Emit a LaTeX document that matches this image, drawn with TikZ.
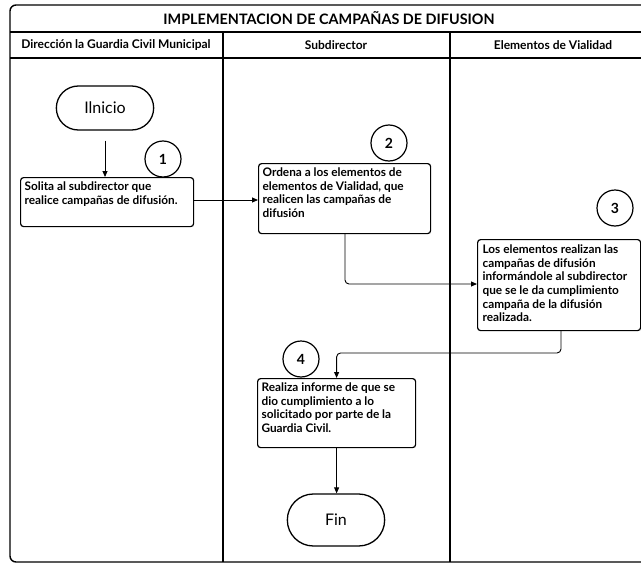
\documentclass[tikz,border=0pt]{standalone}
\usepackage{fontspec}
\setmainfont{Lato}
\usetikzlibrary{arrows.meta,shapes.misc}
\begin{document}
\begin{tikzpicture}[x=1pt,y=-1pt,
  frame/.style={line width=1.4pt},
  lane/.style={line width=1.2pt},
  box/.style={draw,line width=1.2pt,rounded corners=3pt,inner sep=4pt,anchor=north west,font=\bfseries\fontsize{11.8}{13.7}\selectfont},
  term/.style={draw,line width=1.3pt,rounded rectangle,minimum width=104pt,font=\fontsize{16}{18}\selectfont},
  num/.style={draw,circle,line width=1.2pt,minimum size=36pt,inner sep=0pt,font=\bfseries\fontsize{14}{16}\selectfont},
  hdr/.style={font=\bfseries\fontsize{12}{14}\selectfont},
  conn/.style={line width=0.9pt,-{Triangle[length=6pt,width=5pt]},rounded corners=4pt}]
\useasboundingbox (0,0) rectangle (641,565);
% frame
\draw[frame,rounded corners=6pt] (660,562) -- (10,562) -- (10,5) -- (660,5);
\draw[frame] (10,32) -- (660,32);
\draw[frame] (10,58) -- (660,58);
\draw[lane] (223,32) -- (223,562);
\draw[lane] (450,32) -- (450,562);
\node[font=\bfseries\fontsize{14.4}{16}\selectfont] (title) at (329,18.5) {IMPLEMENTACION DE CAMPAÑAS DE DIFUSION};
\node[hdr] (h1) at (116,45) {Dirección la Guardia Civil Municipal};
\node[hdr] (h2) at (336,45) {Subdirector};
\node[hdr] (h3) at (553,45) {Elementos de Vialidad};
% nodes
\node[term,minimum height=44pt] (ini) at (105,108) {Ilnicio};
\node[box] (b1) at (20,177) {\parbox[c][41pt][t]{165pt}{Solita al subdirector que\\realice campañas de difusión.}};
\node[box] (b2) at (258,163) {\parbox[c][62pt][t]{164pt}{Ordena a los elementos de\\elementos de Vialidad, que\\realicen las campañas de\\difusión}};
\node[box,inner sep=5pt] (b3) at (477,239) {\parbox[c][81pt][t]{153pt}{Los elementos realizan las\\campañas de difusión\\informándole al subdirector\\que se le da cumplimiento\\campaña de la difusión\\realizada.}};
\node[box] (b4) at (257,378) {\parbox[c][61pt][t]{150pt}{Realiza informe de que se\\dio cumplimiento a lo\\solicitado por parte de la\\Guardia Civil.}};
\node[term,minimum height=52pt] (fin) at (336,520) {Fin};
\node[num] (n1) at (163,159) {1};
\node[num] (n2) at (389,143) {2};
\node[num] (n3) at (615,208) {3};
\node[num] (n4) at (301,359) {4};
% connectors
\draw[conn,shorten <=10pt] (ini.south) -- (b1.north -| ini.south);
\draw[conn] (b1.east |- 0,200) -- (b2.west |- 0,200);
\draw[conn] (345,233) -- (345,284) -- (b3.west |- 0,284);
\coordinate (c3) at (561,330);
\draw[conn] (c3) -- (561,353) -- (b4.north |- 0,353) -- (b4.north);
\draw[conn] (b4.south) -- (b4.south |- fin.north);
\end{tikzpicture}
\end{document}
